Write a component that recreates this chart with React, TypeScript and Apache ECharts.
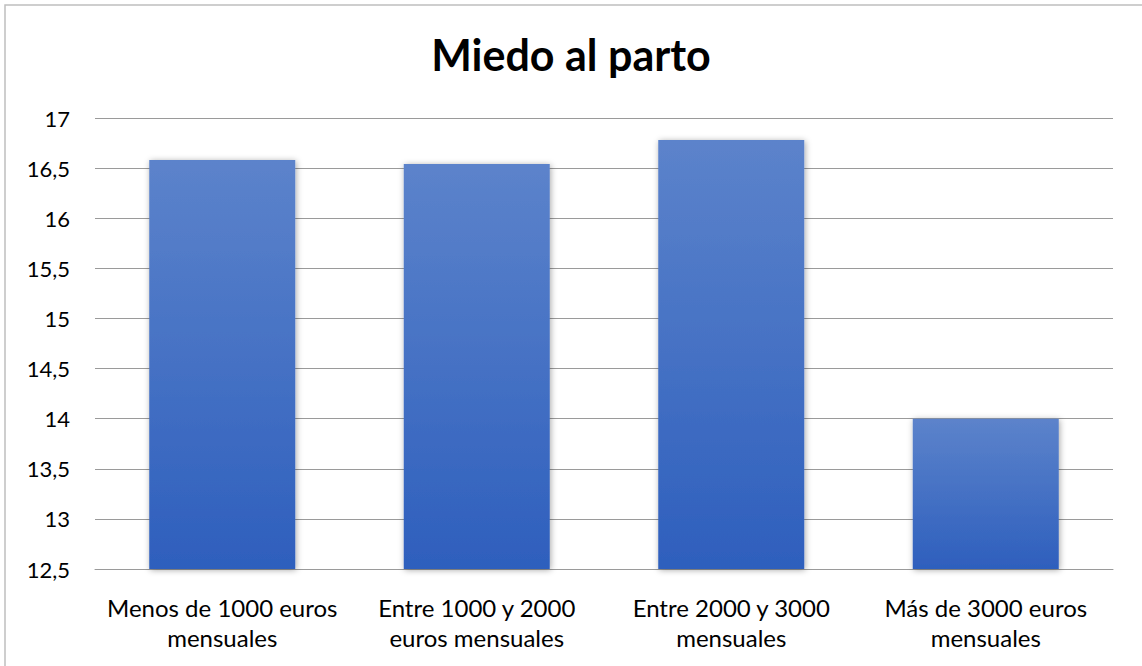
import React, { useEffect, useRef } from "react";
import * as echarts from "echarts";

const titleText = "Miedo al parto";
const categories = [
  "Menos de 1000 euros\nmensuales",
  "Entre 1000 y 2000\neuros mensuales",
  "Entre 2000 y 3000\nmensuales",
  "Más de 3000 euros\nmensuales",
];
const values = [16.58, 16.54, 16.78, 14.0];
const yMin = 12.5;
const yMax = 17;
const yStep = 0.5;

export default function App() {
  const ref = useRef<HTMLDivElement>(null);
  useEffect(() => {
    document.body.style.margin = "0";
    const chart = echarts.init(ref.current!, null, { renderer: "svg" });
    const font = "Lato, 'Noto Sans', sans-serif";
    chart.setOption({
      animation: false,
      backgroundColor: "#ffffff",
      title: {
        text: titleText,
        left: "center",
        top: 28,
        textStyle: { fontFamily: font, fontSize: 43, fontWeight: "bold", color: "#000000" },
      },
      graphic: [
        {
          type: "rect",
          shape: { x: 5, y: 5, width: 1140, height: 665 },
          style: { fill: "none", stroke: "#bfbfbf", lineWidth: 1.5 },
          silent: true,
        },
      ],
      grid: { left: 95, right: 29, top: 118, bottom: 97, containLabel: false },
      xAxis: {
        type: "category",
        data: categories,
        axisLine: { show: true, lineStyle: { color: "#9a9a9a", width: 1 } },
        axisTick: { show: false },
        axisLabel: {
          fontFamily: font,
          fontSize: 24,
          color: "#000000",
          lineHeight: 30,
          margin: 23,
          interval: 0,
        },
      },
      yAxis: {
        type: "value",
        min: yMin,
        max: yMax,
        interval: yStep,
        axisLine: { show: false },
        axisTick: { show: false },
        splitLine: { lineStyle: { color: "#9a9a9a", width: 1 } },
        axisLabel: {
          fontFamily: font,
          fontSize: 22,
          color: "#000000",
          margin: 25,
          formatter: (v: number) => String(v).replace(".", ","),
        },
      },
      series: [
        {
          type: "bar",
          data: values,
          barWidth: 146,
          itemStyle: {
            color: new echarts.graphic.LinearGradient(0, 0, 0, 1, [
              { offset: 0, color: "#5c83cb" },
              { offset: 1, color: "#2e5fbd" },
            ]),
            shadowColor: "rgba(0,0,0,0.35)",
            shadowBlur: 6,
            shadowOffsetX: 1,
            shadowOffsetY: 1,
          },
        },
      ],
    });
    return () => chart.dispose();
  }, []);
  return <div ref={ref} style={{ width: 1142, height: 666 }} />;
}
